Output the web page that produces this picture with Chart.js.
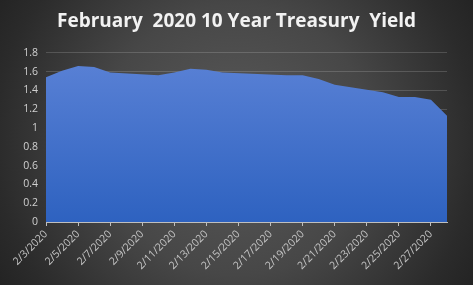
<!DOCTYPE html>
<html>
<head>
<meta charset="utf-8">
<script src="https://cdn.jsdelivr.net/npm/chart.js@4"></script>
<style>
    html, body { margin: 0; padding: 0; background: #2b2b2b; }
    #grafico-box { width: 473px; height: 285px; }
</style>
</head>
<body>
<div id="grafico-box">
    <canvas id="graficoYield"></canvas>
</div>
<script>
// dias de pregão (dia do mês de fevereiro/2020)
var diasPregao = [3, 4, 5, 6, 7, 10, 11, 12, 13, 14, 18, 19, 20, 21, 24, 25, 26, 27, 28];
// rendimento do título de 10 anos (%)
var rendimentos = [1.54, 1.61, 1.66, 1.65, 1.59, 1.56, 1.59, 1.63, 1.62, 1.59, 1.56, 1.56, 1.52, 1.46, 1.38, 1.33, 1.33, 1.30, 1.13];
// rótulos do eixo X (a cada 2 dias)
var rotulosX = ['2/3/2020', '2/5/2020', '2/7/2020', '2/9/2020', '2/11/2020', '2/13/2020', '2/15/2020',
                '2/17/2020', '2/19/2020', '2/21/2020', '2/23/2020', '2/25/2020', '2/27/2020'];
// rótulos do eixo Y
var rotulosY = [0, 0.2, 0.4, 0.6, 0.8, 1, 1.2, 1.4, 1.6, 1.8];

var primeiroDia = 3;
var ultimoDia = 28;

// fundo escuro com gradiente radial
const fundoRadial = {
    id: 'fundoRadial',
    beforeDraw(chart) {
        const ctx = chart.ctx;
        const g = ctx.createRadialGradient(236, 140, 0, 236, 140, 300);
        g.addColorStop(0, '#5a5a5a');
        g.addColorStop(0.45, '#474747');
        g.addColorStop(0.8, '#2b2b2b');
        g.addColorStop(1, '#1f1f1f');
        ctx.save();
        ctx.fillStyle = g;
        ctx.fillRect(0, 0, chart.width, chart.height);
        ctx.restore();
    }
};

var pontos = [];
for (var i = 0; i < diasPregao.length; i++) {
    pontos.push({ x: diasPregao[i] - primeiroDia, y: rendimentos[i] });
}

const configChart = {
    type: 'line',
    data: {
        datasets: [{
            label: '10 Year Treasury Yield',
            data: pontos,
            fill: 'origin',
            tension: 0,
            borderWidth: 0,
            pointRadius: 0,
            backgroundColor: function (context) {
                const area = context.chart.chartArea;
                if (!area) return '#4472c4';
                const g = context.chart.ctx.createLinearGradient(0, area.top, 0, area.bottom);
                g.addColorStop(0, '#5b82d6');
                g.addColorStop(1, '#2e62c0');
                return g;
            }
        }]
    },
    plugins: [fundoRadial],
    options: {
        responsive: false,
        animation: false,
        layout: { padding: 0 },
        plugins: {
            legend: { display: false },
            tooltip: { enabled: false },
            title: {
                display: true,
                text: 'February  2020 10 Year Treasury  Yield',
                color: '#f2f2f2',
                font: { family: 'Open Sans', size: 19, weight: 'bold' },
                padding: { top: 10, bottom: 20 }
            }
        },
        scales: {
            x: {
                type: 'linear',
                min: 0,
                max: ultimoDia - primeiroDia,
                afterFit: function (scale) { scale.height = 63; },
                afterBuildTicks: function (scale) {
                    scale.ticks = rotulosX.map((r, i) => ({ value: i * 2 }));
                },
                ticks: {
                    autoSkip: false,
                    minRotation: 45,
                    maxRotation: 45,
                    color: '#c4c4c4',
                    padding: 2,
                    font: { family: 'Open Sans', size: 10.5 },
                    callback: function (v) { return rotulosX[v / 2]; }
                },
                grid: {
                    drawOnChartArea: false,
                    drawTicks: true,
                    tickLength: 4,
                    color: '#bfbfbf'
                },
                border: { display: true, color: '#bfbfbf', width: 1 }
            },
            y: {
                min: 0,
                max: 1.8,
                afterFit: function (scale) { scale.width = 46; },
                afterBuildTicks: function (scale) {
                    scale.ticks = rotulosY.map(v => ({ value: v }));
                },
                ticks: {
                    color: '#d0d0d0',
                    padding: 8,
                    font: { family: 'Open Sans', size: 10.5 },
                    callback: function (v) { return String(Math.round(v * 10) / 10); }
                },
                grid: {
                    color: 'rgba(255,255,255,0.16)',
                    drawTicks: false
                },
                border: { display: false }
            },
            // eixo vazio à direita só para dar a margem
            margemDireita: {
                position: 'right',
                display: true,
                afterFit: function (scale) { scale.width = 26; },
                ticks: { display: false },
                grid: { display: false },
                border: { display: false }
            }
        }
    }
};

const grafico = document.getElementById('graficoYield');
grafico.width = 473;
grafico.height = 285;
new Chart(grafico, configChart);
</script>
</body>
</html>
